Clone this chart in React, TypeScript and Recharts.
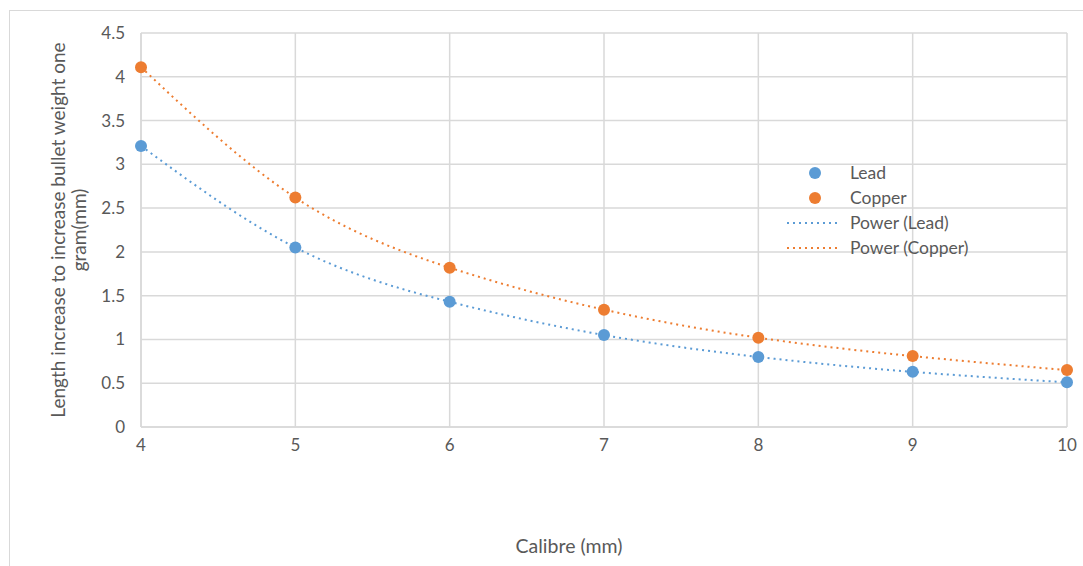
import {
  ComposedChart, Line, XAxis, YAxis, CartesianGrid,
} from 'recharts';

const calibres = [4, 5, 6, 7, 8, 9, 10];
const leadValues = [3.21, 2.05, 1.43, 1.05, 0.8, 0.63, 0.51];
const copperValues = [4.11, 2.62, 1.82, 1.34, 1.02, 0.81, 0.65];
const yTicks = [0, 0.5, 1, 1.5, 2, 2.5, 3, 3.5, 4, 4.5];

const LEAD = '#5b9bd5';
const COPPER = '#ed7d31';
const TEXT = '#595959';
const GRID = '#d9d9d9';
const FONT = 'Lato, "Open Sans", sans-serif';

const data = calibres.map((c, i) => ({ calibre: c, lead: leadValues[i], copper: copperValues[i] }));

function LegendBox() {
  const row = { display: 'flex', alignItems: 'center', height: 25 } as const;
  const label = { marginLeft: 9 };
  return (
    <div style={{ position: 'absolute', left: 786, top: 160, fontFamily: FONT, fontSize: 17.5, color: TEXT }}>
      <div style={row}>
        <svg width={55} height={14}><circle cx={29} cy={7} r={6} fill={LEAD} /></svg>
        <span style={label}>Lead</span>
      </div>
      <div style={row}>
        <svg width={55} height={14}><circle cx={29} cy={7} r={6} fill={COPPER} /></svg>
        <span style={label}>Copper</span>
      </div>
      <div style={row}>
        <svg width={55} height={14}><line x1={1} x2={55} y1={7} y2={7} stroke={LEAD} strokeWidth={2} strokeDasharray="2 4" /></svg>
        <span style={label}>Power (Lead)</span>
      </div>
      <div style={row}>
        <svg width={55} height={14}><line x1={1} x2={55} y1={7} y2={7} stroke={COPPER} strokeWidth={2} strokeDasharray="2 4" /></svg>
        <span style={label}>Power (Copper)</span>
      </div>
    </div>
  );
}

export default function App() {
  return (
    <div style={{ position: 'absolute', left: 0, top: 0, width: 1083, height: 566, overflow: 'hidden', background: '#fff' }}>
      <div style={{ position: 'absolute', left: 9, top: 10, right: 0, bottom: 0, borderTop: `1px solid ${GRID}`, borderLeft: `1px solid ${GRID}` }} />
      <ComposedChart
        width={1083}
        height={566}
        data={data}
        margin={{ top: 33, right: 16, bottom: 0, left: 0 }}
        style={{ position: 'absolute', left: 0, top: 0 }}
      >
        <CartesianGrid stroke={GRID} strokeWidth={1.5} />
        <XAxis
          dataKey="calibre"
          type="number"
          domain={[4, 10]}
          ticks={calibres}
          height={139}
          stroke={GRID}
          strokeWidth={1.5}
          tickSize={0}
          tickMargin={12}
          tick={{ fill: TEXT, fontSize: 17, fontFamily: FONT }}
        />
        <YAxis
          type="number"
          domain={[0, 4.5]}
          ticks={yTicks}
          width={141}
          stroke={GRID}
          strokeWidth={1.5}
          tickSize={0}
          tickMargin={16}
          tick={{ fill: TEXT, fontSize: 17, fontFamily: FONT }}
        />
        <Line
          dataKey="lead"
          type="natural"
          stroke={LEAD}
          strokeWidth={2}
          strokeDasharray="2 4"
          dot={{ r: 6, fill: LEAD, stroke: 'none' }}
          activeDot={false}
          isAnimationActive={false}
        />
        <Line
          dataKey="copper"
          type="natural"
          stroke={COPPER}
          strokeWidth={2}
          strokeDasharray="2 4"
          dot={{ r: 6, fill: COPPER, stroke: 'none' }}
          activeDot={false}
          isAnimationActive={false}
        />
        <text
          transform="translate(57, 230) rotate(-90)"
          textAnchor="middle"
          dominantBaseline="central"
          fill={TEXT}
          fontSize={19}
          fontFamily={FONT}
        >
          Length increase to increase bullet  weight one
        </text>
        <text
          transform="translate(78, 230) rotate(-90)"
          textAnchor="middle"
          dominantBaseline="central"
          fill={TEXT}
          fontSize={19}
          fontFamily={FONT}
        >
          gram(mm)
        </text>
        <text x={569} y={545} textAnchor="middle" dominantBaseline="central" fill={TEXT} fontSize={19.5} fontFamily={FONT}>
          Calibre (mm)
        </text>
      </ComposedChart>
      <LegendBox />
    </div>
  );
}
